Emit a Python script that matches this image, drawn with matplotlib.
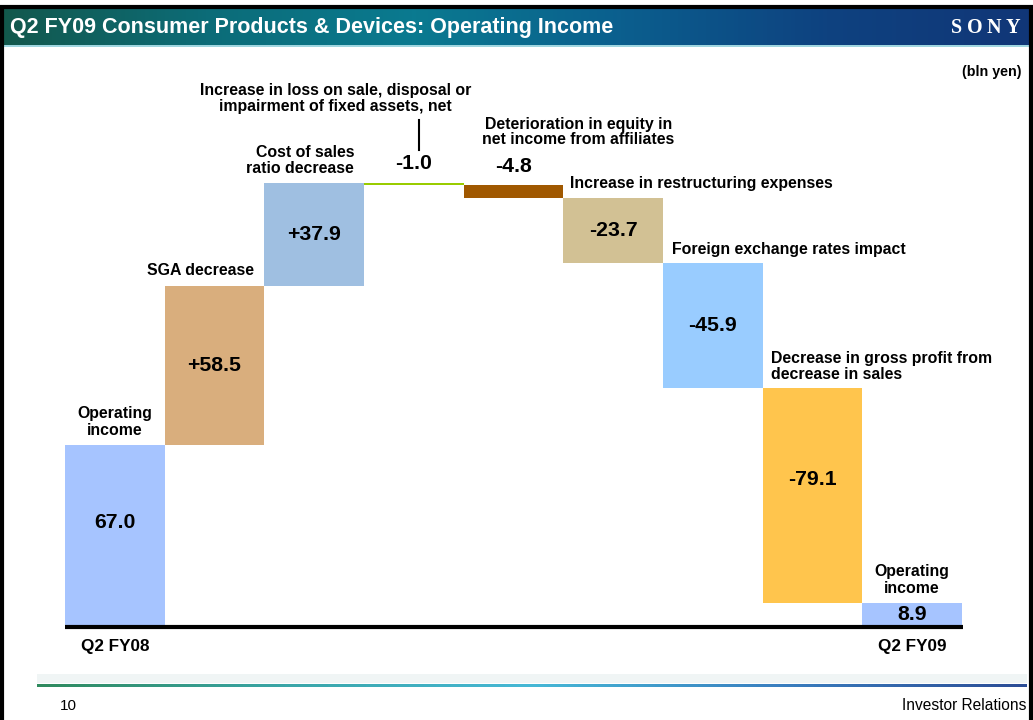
"""
Waterfall: Q2 FY09 Consumer Products & Devices operating income
Output: out.png
"""

import numpy as np
import matplotlib

matplotlib.use("Agg")
import matplotlib.pyplot as plt
from matplotlib.colors import LinearSegmentedColormap
from matplotlib.patches import Rectangle

# ─────────────────────────────────────────────
# DATA
# ─────────────────────────────────────────────
start_label = "Q2 FY08"
end_label = "Q2 FY09"
start_value = 67.0
end_value = 8.9

step_names = [
    "SGA decrease",
    "Cost of sales\nratio decrease",
    "Increase in loss on sale, disposal or\nimpairment of fixed assets, net",
    "Deterioration in equity in\nnet income from affiliates",
    "Increase in restructuring expenses",
    "Foreign exchange rates impact",
    "Decrease in gross profit from\ndecrease in sales",
]
step_values = [58.5, 37.9, -1.0, -4.8, -23.7, -45.9, -79.1]
value_texts = ["67.0", "+58.5", "+37.9", "-1.0", "-4.8", "-23.7", "-45.9", "-79.1", "8.9"]

bar_colors = [
    "#A6C4FF",  # start
    "#D9AE7D",
    "#9FBFE1",
    "#99CC00",
    "#A05800",
    "#D2C194",
    "#99CCFF",
    "#FFC54D",
    "#A6C4FF",  # end
]

# ─────────────────────────────────────────────
# LAYOUT (pixels)
# ─────────────────────────────────────────────
W, H = 1033, 720
DPI = 100
AX_LEFT, AX_RIGHT = 65, 962
BASE_Y = 627  # baseline, px from top
PX_PER_UNIT = 2.72
FONT = "Liberation Sans"


def fx(px):
    return px / W


def fy(py):
    return 1 - py / H


def draw_frame(fig):
    # header gradient
    hdr = fig.add_axes([0, fy(45), 1, (45 - 8) / H])
    cmap = LinearSegmentedColormap.from_list(
        "hdr", ["#13584c", "#0c6c78", "#0a7a90", "#0b5f8e", "#0e4280", "#113677"]
    )
    hdr.imshow(np.linspace(0, 1, 256)[None, :], aspect="auto", cmap=cmap,
               extent=[0, 1, 0, 1])
    hdr.set_axis_off()
    fig.add_artist(Rectangle((0, fy(47)), 1, 2 / H, transform=fig.transFigure,
                             color="#9fd6e0", lw=0))

    fig.text(fx(10), fy(27), "Q2 FY09 Consumer Products & Devices: Operating Income",
             color="white", fontsize=15.5, fontweight="bold", family=FONT,
             va="center", ha="left")
    # logo letters, slightly spread
    for k, ch in enumerate("SONY"):
        fig.text(fx(956 + k * 19), fy(28), ch, color="white", fontsize=14.5,
                 fontweight="bold", family="Liberation Serif",
                 va="center", ha="center")

    # black slide frame (bottom edge off the page)
    fig.add_artist(Rectangle((fx(2), fy(730)), fx(1029), (730 - 7) / H,
                             transform=fig.transFigure, fill=False,
                             ec="black", lw=3, zorder=10))

    # footer line with soft shadow
    fig.add_artist(Rectangle((fx(37), fy(683)), fx(990), 9 / H,
                             transform=fig.transFigure, color="#f0f5f5", lw=0))
    ftr = fig.add_axes([fx(37), fy(687), fx(990), 3 / H])
    fcmap = LinearSegmentedColormap.from_list(
        "ftr", ["#2f8a5e", "#3aa6a8", "#46b8d6", "#3a7fc0", "#2c4d96"]
    )
    ftr.imshow(np.linspace(0, 1, 256)[None, :], aspect="auto", cmap=fcmap,
               extent=[0, 1, 0, 1])
    ftr.set_axis_off()

    fig.text(fx(60), fy(706), "10", fontsize=11, family=FONT, va="center")
    fig.text(fx(1026), fy(706), "Investor Relations", fontsize=11.2, family=FONT,
             va="center", ha="right")
    fig.text(fx(1021), fy(72), "(bln yen)", fontsize=10.3, fontweight="bold",
             family=FONT, va="center", ha="right")


def main():
    fig = plt.figure(figsize=(W / DPI, H / DPI), dpi=DPI)
    fig.patch.set_facecolor("white")

    # chart axes: x in bar units, y in bln yen
    top_px = 60
    ax = fig.add_axes([fx(AX_LEFT), fy(BASE_Y), fx(AX_RIGHT - AX_LEFT),
                       (BASE_Y - top_px) / H])
    ax.set_xlim(0, len(value_texts))
    ax.set_ylim(0, (BASE_Y - top_px) / PX_PER_UNIT)
    ax.set_axis_off()

    # waterfall geometry
    cum = np.cumsum([start_value] + step_values)
    bottoms = [0.0]
    heights = [start_value]
    for i, v in enumerate(step_values):
        prev = cum[i]
        bottoms.append(min(prev, prev + v))
        heights.append(abs(v))
    bottoms.append(0.0)
    heights.append(end_value)
    xs = np.arange(len(heights)) + 0.5
    tops = np.array(bottoms) + np.array(heights)

    ax.bar(xs, heights, bottom=bottoms, width=1.0, color=bar_colors,
           edgecolor="none", linewidth=0)
    ax.plot([0, len(xs) + 0.01], [0, 0], color="black", lw=3,
            solid_capstyle="butt", clip_on=False, zorder=5)

    # value labels
    val_fs = 15.3
    for i, txt in enumerate(value_texts):
        if i in (3, 4):  # too thin, label above
            ax.annotate(txt, (xs[i], tops[i]), xytext=(0, 19),
                        textcoords="offset pixels", ha="center", va="center",
                        fontsize=val_fs, fontweight="bold", family=FONT)
            continue
        y = bottoms[i] + heights[i] / 2
        dy = 0
        if i == 0:
            dy = 13
        elif i == 7:
            dy = 16
        ax.annotate(txt, (xs[i], y), xytext=(0, dy), textcoords="offset pixels",
                    ha="center", va="center", fontsize=val_fs,
                    fontweight="bold", family=FONT)

    # category labels: (text, bar index, dx px, dy px above top, ha, anchor)
    lab_fs = 11.4
    specs = [
        ("Operating\nincome", 0, 0, 7, "center", "mid"),
        (step_names[0], 1, -14, 8, "center", "mid"),
        (step_names[1], 2, -10, 7, "right", "right"),
        (step_names[2], 3, -78, 69, "center", "mid"),
        (step_names[3], 4, 65, 38, "center", "mid"),
        (step_names[4], 5, 7, 7, "left", "left"),
        (step_names[5], 6, 9, 6, "left", "left"),
        (step_names[6], 7, 8, 6, "left", "left"),
        ("Operating\nincome", 8, 0, 7, "center", "mid"),
    ]
    for text, i, dx, dy, ha, anchor in specs:
        x = {"mid": xs[i], "left": xs[i] - 0.5, "right": xs[i] + 0.5}[anchor]
        ax.annotate(text, (x, tops[i]), xytext=(dx, dy),
                    textcoords="offset pixels", ha=ha, va="bottom",
                    fontsize=lab_fs, fontweight="bold", family=FONT,
                    linespacing=1.05 if "\n" in text and i in (2, 3, 4, 7) else 1.15,
                    multialignment=ha)

    # pointer for the tiny -1.0 step
    x_tick = xs[3] + 5 / 99.7
    y0 = tops[3] + 33 / PX_PER_UNIT
    y1 = tops[3] + 63 / PX_PER_UNIT
    ax.plot([x_tick, x_tick], [y0, y1], color="black", lw=1.5)

    # period labels
    for i, lab in ((0, start_label), (len(xs) - 1, end_label)):
        ax.annotate(lab, (xs[i], 0), xytext=(0, -20), textcoords="offset pixels",
                    ha="center", va="center", fontsize=12.3, fontweight="bold",
                    family=FONT)

    draw_frame(fig)
    fig.savefig("out.png", dpi=DPI)


if __name__ == "__main__":
    main()
